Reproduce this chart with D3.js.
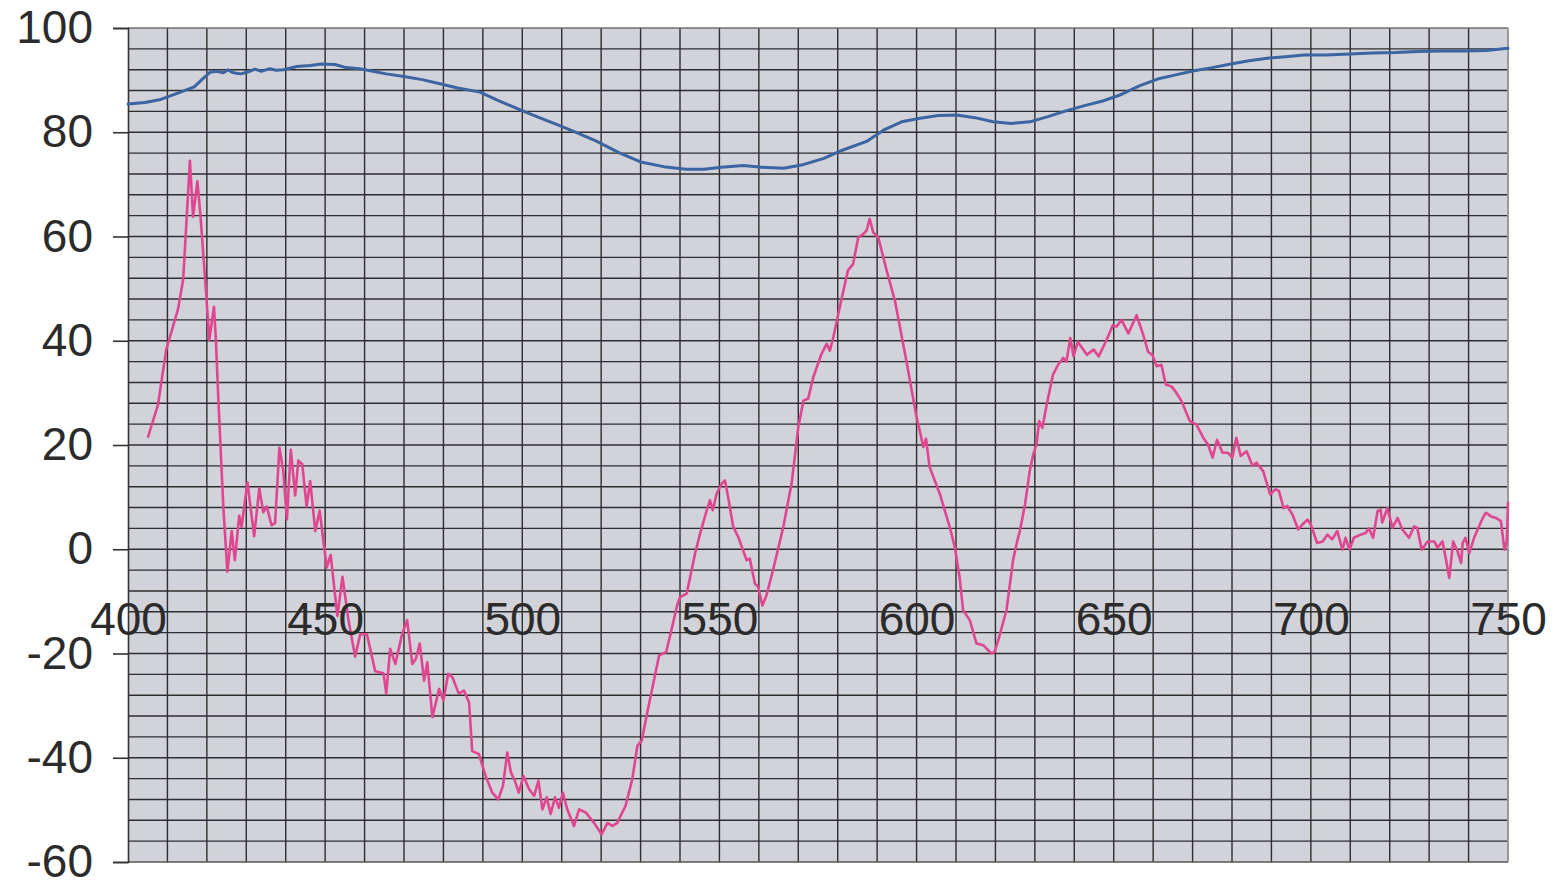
<!DOCTYPE html>
<html>
<head>
<meta charset="utf-8">
<script src="https://cdn.jsdelivr.net/npm/d3@7"></script>
<style>
  html, body { margin: 0; padding: 0; background: #ffffff; }
  svg { display: block; }
  .tick text { font-family: "Liberation Sans", Arial, sans-serif; font-size: 46px; fill: #2b2b2b; }
</style>
</head>
<body>
<svg id="chart" width="1566" height="886"></svg>
<script>
// ---- data ----
const xTicks = [400, 450, 500, 550, 600, 650, 700, 750];
const yTicks = [-60, -40, -20, 0, 20, 40, 60, 80, 100];

const blueX = [400, 404.3, 408.3, 412.3, 416.8, 419, 420.8, 422.5, 424.2, 425.3, 426.4, 427.5, 428.7, 430.9, 432.2, 433.8, 436, 437.5, 439.4, 442.8, 446.2, 449.1, 452.5, 455.3, 458.7, 462.1, 465.5, 470, 474.6, 479.1, 483.6, 489.3, 493.8, 499.5, 504, 508.7, 513.2, 518.8, 524.5, 530, 535.9, 541.5, 546.1, 550.5, 556.1, 560.6, 566.3, 570.8, 576.5, 581, 587.5, 591.6, 596.2, 600.9, 605.5, 610.1, 614.8, 619.4, 624, 628.7, 633.3, 637.9, 642.6, 647.2, 651.8, 656.5, 661.1, 665.7, 670.4, 675, 679.7, 684.3, 688.9, 693.6, 698.2, 704, 709.8, 715.6, 721.4, 727.2, 733, 738.7, 744.5, 750];
const blueY = [85.4, 85.7, 86.3, 87.4, 88.7, 90.3, 91.5, 91.7, 91.4, 92.0, 91.5, 91.3, 91.2, 91.7, 92.1, 91.7, 92.2, 91.9, 92.0, 92.6, 92.8, 93.1, 93.0, 92.4, 92.2, 91.7, 91.2, 90.7, 90.1, 89.3, 88.5, 87.7, 86.1, 84.3, 82.9, 81.5, 80.1, 78.3, 76.1, 74.3, 73.4, 72.9, 72.9, 73.3, 73.6, 73.3, 73.1, 73.7, 75.0, 76.5, 78.3, 80.4, 82.0, 82.7, 83.2, 83.3, 82.8, 82.0, 81.7, 82.0, 83.0, 84.1, 85.1, 86.0, 87.2, 88.9, 90.2, 91.0, 91.8, 92.4, 93.1, 93.7, 94.2, 94.5, 94.8, 94.8, 95.0, 95.2, 95.3, 95.5, 95.6, 95.6, 95.7, 96.1];

const pinkX = [405.1, 407.6, 409.7, 412.7, 414, 415.7, 416.5, 417.6, 418.4, 419.9, 420.6, 421.8, 422.3, 422.9, 424.2, 425.2, 426.3, 427.1, 428.2, 428.8, 430.3, 432, 433.3, 434.3, 435.2, 436.4, 437.3, 438.4, 439.4, 440.3, 441.3, 442.4, 443.2, 444.2, 445.3, 446.2, 447.5, 448.6, 450.4, 451.4, 453.1, 454.4, 455.9, 457.6, 458.9, 460.6, 462.7, 464.8, 465.5, 466.5, 467.8, 469.5, 470.8, 472.1, 473, 474, 475.1, 475.9, 477.2, 478, 478.9, 480, 481.2, 482.3, 483.9, 485.2, 486.5, 487.3, 489, 490.7, 492.4, 493.9, 495.1, 496.2, 497.1, 498.1, 499.1, 500.3, 501.7, 503, 504.1, 505.1, 506.2, 507.2, 508.3, 509.3, 510.3, 511.4, 513.1, 514.4, 516.1, 518.2, 520.1, 521.6, 522.9, 524.1, 524.9, 526.2, 527.9, 529.2, 530.3, 531.7, 534.7, 536.5, 537.6, 539.3, 540, 541.7, 543.8, 545.1, 546.8, 547.6, 548.3, 549.3, 550.6, 551.4, 552.2, 553.5, 554.8, 556, 556.9, 557.7, 559, 559.8, 560.9, 561.9, 563.6, 566.2, 568.3, 570, 571.3, 572.5, 573.8, 575.9, 577.2, 578, 578.9, 580.5, 582.6, 583.9, 585.2, 586.5, 587.3, 588.1, 589, 590.3, 592.4, 594.5, 597.4, 600, 601, 601.7, 602.4, 603.3, 605.9, 608.4, 609.7, 610.9, 611.8, 613.5, 615.2, 616.9, 619, 619.8, 620.7, 622.8, 624.5, 625.5, 626.2, 627.5, 628.7, 629.6, 630.4, 631.1, 631.9, 633, 634.6, 635.9, 637.2, 638, 639, 639.8, 640.9, 643.2, 644.9, 646.2, 648.2, 649.8, 650.7, 652, 653.7, 655.8, 657.5, 658.7, 659.8, 660.9, 662.1, 663.2, 664.7, 665.9, 667.2, 669.3, 671, 672.7, 673.9, 675.1, 676.2, 677.6, 679, 680.1, 681.1, 682.2, 683.7, 685.2, 686.2, 687.9, 689.7, 691, 691.9, 693.1, 694, 695.3, 696.8, 697.8, 699.1, 700, 701.6, 703, 704.2, 705.4, 706.7, 708, 708.8, 709.8, 710.9, 712.6, 713.9, 714.7, 715.8, 716.9, 717.7, 718.1, 719.4, 720.7, 722, 723.2, 724.9, 726.2, 727, 728.1, 729.6, 731.3, 732.1, 733.4, 734.2, 735.1, 736.1, 737.2, 738.1, 738.5, 739.2, 740.2, 741.4, 743.6, 744.4, 745.7, 747, 748.2, 749.1, 749.7, 750];
const pinkY = [21.6, 27.7, 38.3, 46.1, 51.8, 74.5, 63.8, 70.6, 63.8, 48.2, 40.1, 46.5, 40, 29, 7.8, -4.3, 3.5, -2.1, 6.4, 4.3, 12.8, 2.5, 11.7, 7.1, 8.2, 4.6, 5, 19.5, 14.9, 5.7, 19.1, 10.3, 17, 16.3, 8.2, 13.1, 3.5, 7.4, -3.5, -1.1, -12.8, -5.3, -13.5, -20.6, -16.3, -16.3, -23.4, -23.8, -27.7, -19.1, -22, -16.3, -13.6, -22, -21, -18.1, -25.2, -21.7, -32.2, -29.7, -26.8, -29, -23.9, -24.6, -27.7, -27.1, -29.4, -38.7, -39.3, -43.5, -46.7, -48, -45.4, -39, -42.8, -44.4, -46.7, -43.5, -46, -47.3, -44.4, -49.9, -47.6, -50.8, -47.6, -49.6, -46.7, -49.9, -53.1, -49.9, -50.5, -52.5, -54.7, -52.5, -53.1, -52.5, -51.2, -49.2, -44.1, -37.7, -36.7, -31.3, -20.4, -19.7, -16.2, -10.7, -9.2, -8.5, -0.9, 3, 7.5, 9.4, 7.5, 10.7, 12.6, 13.2, 10, 4.3, 2.3, -0.2, -2.1, -1.8, -6.6, -7.2, -10.8, -8.9, -4, 4.3, 12.6, 23.4, 28.5, 28.9, 33, 37.5, 39.4, 38.1, 40.7, 46.4, 53.5, 54.7, 59.8, 60.5, 61.1, 63.4, 60.8, 59.8, 53.5, 47.7, 36.2, 25.3, 22.1, 19.6, 21.2, 15.8, 10.6, 4.3, 0.4, -5.3, -11.7, -13.6, -18.1, -18.4, -20, -19.7, -17.5, -11.7, -2, 1.5, 3.5, 8.6, 15, 18.2, 20.1, 24.6, 23.3, 27.7, 33.5, 35.4, 36.7, 36, 40.5, 37, 39.8, 37.3, 38.3, 37, 40.2, 43, 42.7, 44, 41.4, 44.9, 41.1, 37.9, 37.3, 35.1, 35.4, 31.6, 31.2, 30, 28.4, 24.6, 23.9, 21.4, 20.1, 17.6, 21, 18.5, 18.5, 17.6, 21.4, 17.9, 18.8, 16, 16.6, 15, 10.5, 11.5, 11.2, 7.9, 8.3, 6.7, 3.8, 4.7, 5.7, 4.7, 1.2, 1.5, 2.8, 1.9, 3.5, -0.1, 2.2, -0.1, 2.2, 2.8, 3.1, 4, 2.2, 7.3, 7.6, 5.1, 7.9, 4.1, 6, 3.8, 2.2, 4.4, 4.1, -0.1, 1.5, 1.5, 0.3, 1.5, -1.7, -5.5, 1.5, -0.4, -2.6, 1.2, 2.2, -0.7, 2.2, 6, 7, 6.3, 6, 5.4, -0.1, 1.5, 8.9];

if (pinkX.length !== pinkY.length) console.error("pink length mismatch", pinkX.length, pinkY.length);
if (blueX.length !== blueY.length) console.error("blue length mismatch", blueX.length, blueY.length);

// ---- layout ----
const svg = d3.select("#chart");
const pLeft = 128, pRight = 1508, pTop = 28, pBottom = 862;

const x = d3.scaleLinear().domain([400, 750]).range([pLeft, pRight]);
const y = d3.scaleLinear().domain([-60, 100]).range([pBottom, pTop]);

// plot background
svg.append("rect")
  .attr("x", pLeft).attr("y", pTop)
  .attr("width", pRight - pLeft).attr("height", pBottom - pTop)
  .attr("fill", "#d1d2da");

// grid
const vGrid = d3.range(410, 750, 10);
const hGrid = d3.range(-56, 100, 4);
svg.append("g").selectAll("line").data(vGrid).join("line")
  .attr("x1", d => x(d)).attr("x2", d => x(d))
  .attr("y1", pTop).attr("y2", pBottom)
  .attr("stroke", "#2e2e2e").attr("stroke-width", 1.4);
svg.append("g").selectAll("line").data(hGrid).join("line")
  .attr("x1", pLeft).attr("x2", pRight)
  .attr("y1", d => y(d)).attr("y2", d => y(d))
  .attr("stroke", "#2e2e2e").attr("stroke-width", 1.4);

// borders
svg.append("line").attr("x1", pLeft).attr("x2", pRight).attr("y1", pTop).attr("y2", pTop)
  .attr("stroke", "#6e6e6e").attr("stroke-width", 1.5);
svg.append("line").attr("x1", pRight).attr("x2", pRight).attr("y1", pTop).attr("y2", pBottom)
  .attr("stroke", "#9a9a9a").attr("stroke-width", 2);
svg.append("line").attr("x1", pLeft).attr("x2", pRight).attr("y1", pBottom).attr("y2", pBottom)
  .attr("stroke", "#555555").attr("stroke-width", 1.5);

// y axis
const yAxis = d3.axisLeft(y).tickValues(yTicks).tickSize(15).tickPadding(20)
  .tickFormat(d => String(d));
const gy = svg.append("g").attr("transform", `translate(${pLeft},0)`).call(yAxis);
gy.select(".domain").attr("stroke", "#333").attr("stroke-width", 1.6);
gy.selectAll(".tick line").attr("stroke", "#333").attr("stroke-width", 1.6);

// x axis (labels hung below the zero line)
const xAxis = d3.axisBottom(x).tickValues(xTicks).tickSize(0).tickPadding(53)
  .tickFormat(d => String(d));
const gx = svg.append("g").attr("transform", `translate(0,${y(0)})`).call(xAxis);
gx.select(".domain").remove();

// series
const pinkData = pinkX.map((v, i) => [v, pinkY[i]]);
const blueData = blueX.map((v, i) => [v, blueY[i]]);
const line = d3.line().x(d => x(d[0])).y(d => y(d[1]));

svg.append("path").datum(blueData).attr("d", line)
  .attr("fill", "none").attr("stroke", "#3a65a2").attr("stroke-width", 3)
  .attr("stroke-linejoin", "round").attr("stroke-linecap", "round");
svg.append("path").datum(pinkData).attr("d", line)
  .attr("fill", "none").attr("stroke", "#e0468f").attr("stroke-width", 2.6)
  .attr("stroke-linejoin", "round").attr("stroke-linecap", "round");

gx.raise();
</script>
</body>
</html>
